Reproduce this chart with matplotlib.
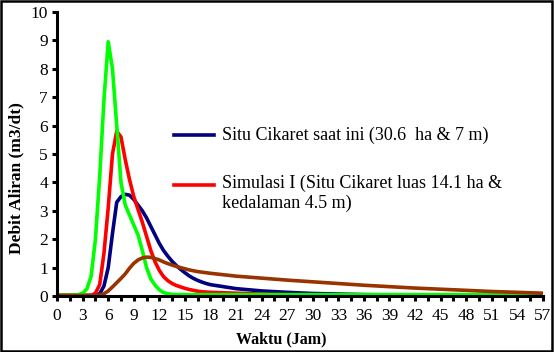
import matplotlib.pyplot as plt
from matplotlib.ticker import MultipleLocator
from matplotlib.patches import Rectangle

plt.rcParams['font.family'] = ['Liberation Serif', 'DejaVu Serif']

# waktu (jam)
waktu = [0, 0.5, 1, 1.5, 2, 2.5, 3, 3.5, 4, 4.5, 5, 5.5, 6, 6.5, 7, 7.5, 8, 8.5, 9, 9.5,
         10, 10.5, 11, 11.5, 12, 12.5, 13, 13.5, 14, 14.5, 15, 15.5, 16, 16.5, 17, 17.5, 18,
         21, 24, 27, 30, 33, 36, 39, 42, 45, 48, 51, 54, 57]

# debit (m3/dt)
situ_saat_ini = [0.02, 0.02, 0.02, 0.02, 0.02, 0.02, 0.02, 0.02, 0.02, 0.02, 0.08, 0.35, 1.0, 2.2, 3.3, 3.5,
                 3.58, 3.55, 3.4, 3.2, 3.0, 2.75, 2.45, 2.15, 1.85, 1.6, 1.4, 1.22, 1.07, 0.94, 0.82, 0.71,
                 0.62, 0.55, 0.49, 0.44, 0.4,
                 0.26, 0.18, 0.13, 0.09, 0.07, 0.05, 0.04, 0.03, 0.03, 0.03, 0.03, 0.03, 0.03]
simulasi_1 = [0.02, 0.02, 0.02, 0.02, 0.02, 0.02, 0.02, 0.02, 0.02, 0.1, 0.4, 1.5, 3.1, 5.0, 5.8, 5.6,
              4.8, 4.1, 3.5, 3.05, 2.6, 2.1, 1.6, 1.2, 0.9, 0.68, 0.54, 0.44, 0.37, 0.32, 0.27, 0.23,
              0.2, 0.17, 0.15, 0.14, 0.13,
              0.1, 0.07, 0.05, 0.04, 0.03, 0.03, 0.03, 0.03, 0.03, 0.03, 0.03, 0.03, 0.03]
simulasi_2 = [0.03, 0.03, 0.03, 0.03, 0.03, 0.05, 0.1, 0.25, 0.7, 2.0, 4.2, 6.9, 8.95, 8.0, 6.0, 4.0,
              3.2, 2.85, 2.5, 2.15, 1.6, 1.0, 0.6, 0.38, 0.22, 0.12, 0.08, 0.06, 0.05, 0.05, 0.05, 0.05,
              0.05, 0.05, 0.05, 0.05, 0.05,
              0.05, 0.05, 0.05, 0.05, 0.05, 0.05, 0.05, 0.05, 0.05, 0.05, 0.05, 0.05, 0.05]
simulasi_3 = [0.02, 0.02, 0.02, 0.02, 0.02, 0.02, 0.02, 0.02, 0.02, 0.02, 0.03, 0.08, 0.18, 0.32, 0.47, 0.62,
              0.78, 0.98, 1.15, 1.27, 1.34, 1.37, 1.36, 1.32, 1.27, 1.2, 1.14, 1.09, 1.04, 1.0, 0.96, 0.92,
              0.89, 0.86, 0.84, 0.82, 0.8,
              0.7, 0.63, 0.56, 0.5, 0.44, 0.38, 0.33, 0.28, 0.24, 0.2, 0.16, 0.13, 0.1]

label_1 = 'Situ Cikaret saat ini (30.6  ha & 7 m)'
label_2 = 'Simulasi I (Situ Cikaret luas 14.1 ha &\nkedalaman 4.5 m)'

fig = plt.figure(figsize=(5.54, 3.52), dpi=100)
ax = fig.add_axes([0.103, 0.159, 0.877, 0.807])

ax.plot(waktu, situ_saat_ini, color='#000080', lw=2.6, solid_joinstyle='round')
ax.plot(waktu, simulasi_1, color='#ff0000', lw=2.6, solid_joinstyle='round')
ax.plot(waktu, simulasi_2, color='#00ff00', lw=2.6, solid_joinstyle='round')
ax.plot(waktu, simulasi_3, color='#993300', lw=2.6, solid_joinstyle='round')

ax.set_xlim(0, 57)
ax.set_ylim(0, 10)
ax.xaxis.set_major_locator(MultipleLocator(3))
ax.xaxis.set_minor_locator(MultipleLocator(1.5))
ax.yaxis.set_major_locator(MultipleLocator(1))
ax.tick_params(which='both', direction='out', length=3.6, width=2.2, labelsize=12.5, color='black')
ax.tick_params(axis='x', which='both', pad=5)
ax.tick_params(axis='y', pad=3)

for s in ['top', 'right']:
    ax.spines[s].set_visible(False)
for s in ['left', 'bottom']:
    ax.spines[s].set_linewidth(2.2)

ax.set_xlabel('Waktu (Jam)', fontsize=11.5, fontweight='bold')
ax.set_ylabel('Debit Aliran (m3/dt)', fontsize=12.5, fontweight='bold')
ax.xaxis.set_label_coords(0.462, -0.125)
ax.yaxis.set_label_coords(-0.068, 0.415)

# keterangan (legend) manual
ax.plot([0.241, 0.323], [0.567, 0.567], transform=ax.transAxes, color='#000080', lw=2.6, clip_on=False)
ax.text(0.339, 0.567, label_1, transform=ax.transAxes, fontsize=13, va='center')
ax.plot([0.241, 0.323], [0.391, 0.391], transform=ax.transAxes, color='#ff0000', lw=2.6, clip_on=False)
ax.text(0.339, 0.391 + 0.035, label_2, transform=ax.transAxes, fontsize=13, va='top', linespacing=1.15)

fig.patches.append(Rectangle((0.002, 0.003), 0.995, 0.994, transform=fig.transFigure,
                             fill=False, edgecolor='black', lw=1.8))

fig.savefig('out.png', dpi=100)
